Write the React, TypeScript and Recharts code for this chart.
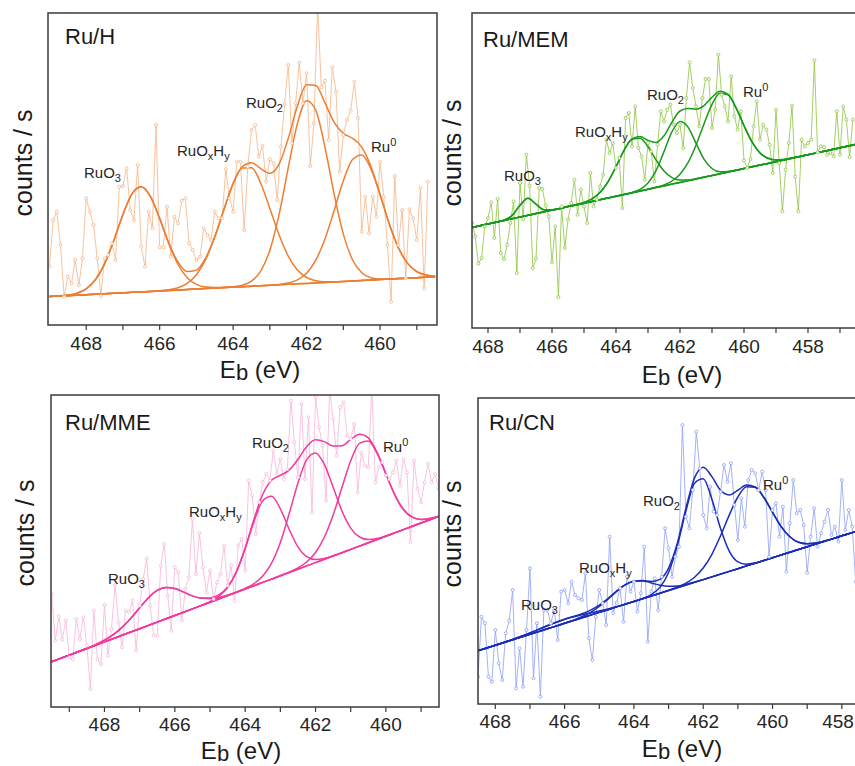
import { LineChart, Line, XAxis, YAxis } from 'recharts'

// fitted curves are sampled every 0.25 eV, raw spectra every 0.1 eV
const FIT_STEP = 0.25
const RAW_STEP = 0.1
const FONT = '"Liberation Sans", Arial, sans-serif'

// ---------- Ru/H ----------
const ruHFitStart = 469.0
const ruHBase = [28.4, 28.9, 29.3, 29.8, 30.3, 30.8, 31.2, 31.7, 32.2, 32.7, 33.1, 33.6, 34.1, 34.5, 35.0, 35.5, 36.0, 36.4, 36.9, 37.4, 37.9, 38.3, 38.8, 39.3, 39.7, 40.2, 40.7, 41.2, 41.6, 42.1, 42.6, 43.0, 43.5, 44.0, 44.5, 44.9, 45.4, 45.9, 46.4, 46.8, 47.3, 47.8, 48.2]
const ruHRuO3 = [0, 0.1, 0.6, 2.0, 5.9, 14.4, 29.9, 52.7, 78.4, 98.7, 105.2, 94.8, 72.3, 46.7, 25.5, 11.8, 4.6, 1.5, 0.5, 0.1, 0, 0, 0, 0, 0, 0, 0, 0, 0, 0, 0, 0, 0, 0, 0, 0, 0, 0, 0, 0, 0, 0, 0]
const ruHRuOxHy = [0, 0, 0, 0, 0, 0, 0, 0, 0, 0, 0, 0, 0.2, 0.7, 2.3, 6.1, 14.3, 28.9, 51.0, 78.0, 103.4, 118.8, 118.5, 102.5, 76.9, 50.0, 28.2, 13.8, 5.9, 2.2, 0.7, 0.2, 0, 0, 0, 0, 0, 0, 0, 0, 0, 0, 0]
const ruHRuO2 = [0, 0, 0, 0, 0, 0, 0, 0, 0, 0, 0, 0, 0, 0, 0, 0, 0, 0, 0, 0.1, 0.3, 1.4, 5.0, 14.6, 35.1, 70.2, 116.4, 160.2, 182.6, 172.6, 135.3, 87.9, 47.4, 21.2, 7.8, 2.4, 0.6, 0.1, 0, 0, 0, 0, 0]
const ruHRu0 = [0, 0, 0, 0, 0, 0, 0, 0, 0, 0, 0, 0, 0, 0, 0, 0, 0, 0, 0, 0, 0, 0, 0, 0, 0, 0.4, 1.3, 3.9, 10.2, 22.7, 43.5, 71.5, 100.7, 121.5, 125.6, 111.4, 84.7, 55.2, 30.8, 14.8, 6.1, 2.1, 0.6]
const ruHRawStart = 469.0
const ruHRaw = [
  58.3, 105, 113.3, 80, 28.3, 48.3, 41.7, 65, 40, 66.7,
  126.7, 113.3, 100, 66.7, 29, 66.7, 70, 81.7, 65, 138.3,
  139, 156.7, 115, 105, 160, 78.3, 58.3, 113.3, 96.7, 200,
  77.7, 77.7, 118.3, 68.3, 108.3, 101.7, 124.3, 126.7, 81.7, 75,
  65, 68.3, 96.7, 90, 85, 113.3, 106.7, 106.7, 155.7, 126.7,
  113.3, 163.3, 163.3, 95, 158.3, 195, 200, 168.3, 179, 143.3,
  165.7, 161.7, 125, 178.3, 221, 260, 181.7, 221.7, 262.3, 221.7,
  251.7, 159, 201.7, 320, 237.7, 244.3, 185, 257.7, 233.3, 153.3,
  190, 205, 214.3, 243.3, 206.7, 93.3, 128.3, 91.7, 128.3, 108.3,
  163.3, 128.3, 80, 23.3, 149, 80, 115, 46.7, 115.7, 106.7,
  85, 137.7, 36.7, 143.3,
]

// ---------- Ru/MEM ----------
const ruMEMFitStart = 468.5
const ruMEMBase = [100.6, 102.3, 104.1, 105.8, 107.5, 109.3, 111.0, 112.7, 114.4, 116.2, 117.9, 119.6, 121.4, 123.1, 124.8, 126.6, 128.3, 130.0, 131.7, 133.5, 135.2, 136.9, 138.7, 140.4, 142.1, 143.9, 145.6, 147.3, 149.0, 150.8, 152.5, 154.2, 156.0, 157.7, 159.4, 161.2, 162.9, 164.6, 166.3, 168.1, 169.8, 171.5, 173.3, 175.0, 176.7, 178.5, 180.2, 181.9, 183.6]
const ruMEMRuO3 = [0, 0, 0, 0, 0.3, 3.1, 11.8, 17.0, 9.4, 2.0, 0.2, 0, 0, 0, 0, 0, 0, 0, 0, 0, 0, 0, 0, 0, 0, 0, 0, 0, 0, 0, 0, 0, 0, 0, 0, 0, 0, 0, 0, 0, 0, 0, 0, 0, 0, 0, 0, 0, 0]
const ruMEMRuOxHy = [0, 0, 0, 0, 0, 0, 0, 0, 0, 0, 0, 0, 0.1, 0.2, 0.8, 2.6, 7.2, 16.2, 29.6, 44.1, 53.4, 52.8, 42.5, 27.8, 14.9, 6.5, 2.3, 0.7, 0.2, 0.1, 0, 0, 0, 0, 0, 0, 0, 0, 0, 0, 0, 0, 0, 0, 0, 0, 0, 0, 0]
const ruMEMRuO2 = [0, 0, 0, 0, 0, 0, 0, 0, 0, 0, 0, 0, 0, 0, 0, 0, 0, 0, 0, 0.1, 0.4, 1.8, 6.4, 17.0, 34.3, 52.4, 60.9, 53.6, 35.8, 18.1, 7.0, 2.0, 0.5, 0.1, 0, 0, 0, 0, 0, 0, 0, 0, 0, 0, 0, 0, 0, 0, 0]
const ruMEMRu0 = [0, 0, 0, 0, 0, 0, 0, 0, 0, 0, 0, 0, 0, 0, 0, 0, 0, 0, 0, 0, 0, 0, 0, 0.3, 1.0, 3.1, 8.2, 18.0, 33.7, 53.3, 71.2, 80.6, 77.2, 62.5, 42.9, 24.9, 12.2, 5.1, 1.8, 0.5, 0.2, 0, 0, 0, 0, 0, 0, 0, 0]
const ruMEMRawStart = 468.5
const ruMEMRaw = [
  105, 91.6, 64.3, 70, 101.6, 110, 125.6, 90, 129, 75,
  69, 83.3, 105, 126.6, 55, 145, 109, 173.3, 142.3, 60,
  69.3, 140, 139, 122.3, 111.6, 65.6, 101.6, 31, 121.6, 80,
  108.3, 125, 148.3, 113.3, 138.3, 121.6, 105, 155, 121.6, 128.3,
  141.6, 153.3, 188.3, 175, 185, 160, 170, 120, 210, 215,
  181.6, 221.6, 180, 171.6, 148.3, 185, 176.6, 146.6,
  183.3, 216.6, 206.6, 218.3, 223.3, 203.3, 195, 203.3, 180, 230,
  265.6, 240, 221.6, 201.6, 230, 249, 249, 200, 218.3, 273.3,
  233.3, 221.6, 206.6, 251.6, 211.6, 198.3, 216.6, 167.6, 160, 169,
  201.6, 226.6, 188.3, 203.3, 198.3, 183.3, 155, 218.3, 165, 116.6,
  158.3, 185, 222.3, 151.6, 116.6, 188.3, 181.6, 185, 188.3, 267.6,
  175.6, 181.6, 181, 173.3, 175, 171.6, 216.6, 173.3, 221.6, 208.3,
  171, 208.3,
]

// ---------- Ru/MME ----------
const ruMMEFitStart = 469.5
const ruMMEBase = [45.3, 48.6, 51.9, 55.2, 58.5, 61.8, 65.1, 68.4, 71.7, 75.0, 78.3, 81.6, 84.9, 88.2, 91.5, 94.8, 98.1, 101.4, 104.7, 108.0, 111.4, 114.7, 118.0, 121.3, 124.6, 127.9, 131.2, 134.5, 137.8, 141.1, 144.4, 147.7, 151.0, 154.3, 157.6, 160.9, 164.2, 167.5, 170.8, 174.1, 177.4, 180.7, 184.0, 187.3, 190.6]
const ruMMERuO3 = [0, 0, 0, 0, 0.2, 0.6, 1.7, 3.9, 7.9, 13.8, 21.0, 27.7, 31.7, 31.4, 27.0, 20.1, 13.0, 7.3, 3.6, 1.5, 0.6, 0.2, 0, 0, 0, 0, 0, 0, 0, 0, 0, 0, 0, 0, 0, 0, 0, 0, 0, 0, 0, 0, 0, 0, 0]
const ruMMERuOxHy = [0, 0, 0, 0, 0, 0, 0, 0, 0, 0, 0, 0, 0, 0, 0, 0, 0, 0.2, 0.7, 2.6, 8.1, 20.3, 40.4, 64.3, 81.7, 82.8, 67.0, 43.3, 22.3, 9.2, 3.0, 0.8, 0.2, 0, 0, 0, 0, 0, 0, 0, 0, 0, 0, 0, 0]
const ruMMERuO2 = [0, 0, 0, 0, 0, 0, 0, 0, 0, 0, 0, 0, 0, 0, 0, 0, 0, 0, 0, 0, 0, 0.1, 0.6, 2.1, 6.4, 16.0, 33.4, 58.7, 86.3, 106.3, 109.7, 94.9, 68.8, 41.8, 21.3, 9.1, 3.2, 1.0, 0.2, 0, 0, 0, 0, 0, 0]
const ruMMERu0 = [0, 0, 0, 0, 0, 0, 0, 0, 0, 0, 0, 0, 0, 0, 0, 0, 0, 0, 0, 0, 0, 0, 0, 0, 0, 0, 0, 0.4, 1.3, 3.9, 10.1, 22.0, 40.9, 65.2, 88.6, 102.8, 101.8, 86.1, 62.2, 38.3, 20.1, 9.1, 3.5, 1.1, 0.3]
const ruMMERawStart = 469.5
const ruMMERaw = [
  113, 66.4, 90.7, 67.4, 86.4, 49.7, 48, 88, 68, 89.7,
  61.4, 18, 96.4, 48, 43, 102, 51.4, 78, 122, 84.7,
  59.7, 96.4, 94.7, 106.4, 56.4, 101.4, 128, 148.7, 101.4, 71.4,
  71.4, 141.4, 163, 111.4, 76.4, 139.7, 134.7, 86.4, 118, 129.7,
  188, 133, 174, 139.7, 114.7, 136.4, 108, 124.7, 133, 161.4,
  121.4, 141.4, 106.4, 161.4, 168, 136.4,
  226.4, 211.4, 173, 204.7, 224.7, 233, 226.4, 256.4, 233, 248,
  228, 238, 306.4, 264.7, 229.7, 303, 228, 289.7, 194.7, 309.7,
  279.7, 261.4, 206.4, 318, 288, 251.4, 299.7, 304.7, 271.4, 268,
  283, 214.7, 254.7, 241.4, 239.7, 318, 224.7, 239.7, 244.7, 231.4,
  228, 234.7, 246.4, 221.4, 248, 234.7, 164.7, 246.4, 218, 204.7,
  224.7, 243, 224.7, 233, 218,
]

// ---------- Ru/CN ----------
const ruCNFitStart = 468.5
const ruCNBase = [53.3, 56.0, 58.8, 61.5, 64.2, 67.0, 69.7, 72.4, 75.2, 77.9, 80.7, 83.4, 86.1, 88.9, 91.6, 94.3, 97.1, 99.8, 102.5, 105.3, 108.0, 110.7, 113.5, 116.2, 118.9, 121.7, 124.4, 127.1, 129.9, 132.6, 135.3, 138.1, 140.8, 143.5, 146.3, 149.0, 151.8, 154.5, 157.2, 160.0, 162.7, 165.4, 168.2, 170.9, 173.6]
const ruCNRuO3 = [0, 0, 0, 0.1, 0.3, 0.7, 1.4, 2.2, 3.1, 3.7, 4.0, 3.7, 3.1, 2.2, 1.4, 0.7, 0.3, 0.1, 0, 0, 0, 0, 0, 0, 0, 0, 0, 0, 0, 0, 0, 0, 0, 0, 0, 0, 0, 0, 0, 0, 0, 0, 0, 0, 0]
const ruCNRuOxHy = [0, 0, 0, 0, 0, 0, 0, 0, 0, 0, 0.1, 0.4, 1.1, 2.8, 5.9, 10.4, 15.5, 19.4, 20.3, 17.8, 13.1, 8.1, 4.2, 1.8, 0.7, 0.2, 0, 0, 0, 0, 0, 0, 0, 0, 0, 0, 0, 0, 0, 0, 0, 0, 0, 0, 0]
const ruCNRuO2 = [0, 0, 0, 0, 0, 0, 0, 0, 0, 0, 0, 0, 0, 0, 0, 0, 0, 0, 0, 0.3, 1.4, 5.9, 18.0, 41.9, 74.0, 99.1, 100.8, 77.7, 45.5, 20.2, 6.8, 1.7, 0.3, 0, 0, 0, 0, 0, 0, 0, 0, 0, 0, 0, 0]
const ruCNRu0 = [0, 0, 0, 0, 0, 0, 0, 0, 0, 0, 0, 0, 0, 0, 0, 0, 0, 0, 0, 0, 0, 0, 0.2, 0.7, 2.0, 5.1, 11.6, 22.6, 38.3, 56.3, 71.7, 79.2, 75.9, 63.0, 45.4, 28.4, 15.4, 7.2, 3.0, 1.0, 0.3, 0, 0, 0, 0]
const ruCNRawStart = 468.5
const ruCNRaw = [
  27.3, 87.3, 80.7, 27.3, 22.3, 74, 40.7, 24, 70.7, 83.3,
  114, 15.7, 55.7, 17.3, 74, 135.7, 25.7, 80.7, 7.3, 94,
  94, 80.7, 94, 64, 112.3, 114, 100.7, 122.3, 109, 105.7,
  104, 130.7, 65.7, 44, 87.3, 114, 100.7, 79, 167.3, 90.7,
  101.3, 115.7, 82.3, 127.3, 112.3, 122.3, 92.3, 110.7, 157.3, 62.3,
  112.3, 125.7, 93.7, 127.3, 175.7, 155.7,
  127.3, 147.3, 157.3, 279, 187.3, 175.7, 214, 272.3, 235.7, 189,
  175.7, 217.3, 192.3, 189, 212.3, 239, 222.3, 240.7, 199, 164,
  205.7, 177.3, 224, 234, 230.7, 214, 232.3, 214, 147.3, 194,
  200.7, 167.3, 197.3, 132.3, 180.7, 224, 190.7, 194, 179, 131.3,
  167.3, 195.7, 157.3, 170.7, 182.3, 194, 169, 177.3, 162.3, 224,
  174, 194, 177.3, 122.3, 185.7,
]

const COMP_KEYS = ['c0', 'c1', 'c2', 'c3']

function buildFit(start: number, base: number[], comps: number[][]) {
  return base.map((b, i) => {
    const row: Record<string, number> = { e: start - i * FIT_STEP, base: b }
    let env = b
    comps.forEach((h, k) => {
      row[COMP_KEYS[k]] = b + h[i]
      env += h[i]
    })
    row.env = env
    return row
  })
}

function buildRaw(start: number, values: number[]) {
  return values.map((v, i) => ({ e: +(start - i * RAW_STEP).toFixed(2), raw: v }))
}

const panels = [
  {
    id: 'h', left: 48, top: 13, width: 389, height: 312, tickMargin: 7,
    domain: [458.45, 469.04], ticks: [459, 460, 461, 462, 463, 464, 465, 466, 467, 468],
    fit: buildFit(ruHFitStart, ruHBase, [ruHRuO3, ruHRuOxHy, ruHRuO2, ruHRu0]),
    raw: buildRaw(ruHRawStart, ruHRaw),
    color: '#ED7D31', rawColor: '#F5B485',
  },
  {
    id: 'mem', left: 472, top: 13, width: 384, height: 315, tickMargin: 7,
    domain: [456.5, 468.5], ticks: [457, 458, 459, 460, 461, 462, 463, 464, 465, 466, 467, 468],
    fit: buildFit(ruMEMFitStart, ruMEMBase, [ruMEMRuO3, ruMEMRuOxHy, ruMEMRuO2, ruMEMRu0]),
    raw: buildRaw(ruMEMRawStart, ruMEMRaw),
    color: '#169B1A', rawColor: '#8CC43C',
  },
  {
    id: 'mme', left: 51, top: 395, width: 388, height: 312, tickMargin: 6,
    domain: [458.49, 469.52], ticks: [459, 460, 461, 462, 463, 464, 465, 466, 467, 468, 469],
    fit: buildFit(ruMMEFitStart, ruMMEBase, [ruMMERuO3, ruMMERuOxHy, ruMMERuO2, ruMMERu0]),
    raw: buildRaw(ruMMERawStart, ruMMERaw),
    color: '#F23A9E', rawColor: '#F8B4D6',
  },
  {
    id: 'cn', left: 478, top: 398, width: 377, height: 306, tickMargin: 6,
    domain: [457.62, 468.5], ticks: [458, 459, 460, 461, 462, 463, 464, 465, 466, 467, 468],
    fit: buildFit(ruCNFitStart, ruCNBase, [ruCNRuO3, ruCNRuOxHy, ruCNRuO2, ruCNRu0]),
    raw: buildRaw(ruCNRawStart, ruCNRaw),
    color: '#1B2DB8', rawColor: '#8C9EF5',
  },
]

// tick label: even energies only, kept inside the page at the right edge
function EnergyTick(props: any) {
  const { x, y, payload, maxX } = props
  const v = payload.value as number
  if (v % 2 !== 0) return null
  const half = 16
  const cx = Math.min(x, maxX - half)
  return (
    <text x={cx} y={y} dy="0.71em" textAnchor="middle" fontSize={19} fill="#262626" fontFamily={FONT}>
      {v}
    </text>
  )
}

function Panel({ p }: { p: (typeof panels)[number] }) {
  const maxX = 854 - p.left
  return (
    <div style={{ position: 'absolute', left: p.left, top: p.top }}>
      <LineChart width={p.width} height={p.height + 40} margin={{ top: 0, right: 0, bottom: 0, left: 0 }}>
        <XAxis
          type="number"
          dataKey="e"
          domain={p.domain}
          reversed
          allowDataOverflow
          ticks={p.ticks}
          interval={0}
          axisLine={false}
          tickLine={{ stroke: '#3a3a3a', strokeWidth: 1.2 }}
          tickSize={5}
          tickMargin={p.tickMargin}
          tick={(props: any) => <EnergyTick {...props} maxX={maxX} />}
          height={40}
        />
        <YAxis type="number" hide domain={[0, p.height]} allowDataOverflow />
        <Line
          data={p.raw}
          dataKey="raw"
          type="linear"
          stroke={p.rawColor}
          strokeWidth={0.8}
          dot={{ r: 1.5, fill: '#fff', stroke: p.rawColor, strokeWidth: 0.8 }}
          isAnimationActive={false}
        />
        <Line data={p.fit} dataKey="base" type="linear" stroke={p.color} strokeWidth={1.5} dot={false} isAnimationActive={false} />
        {COMP_KEYS.map((k) => (
          <Line key={k} data={p.fit} dataKey={k} type="monotone" stroke={p.color} strokeWidth={1.5} dot={false} isAnimationActive={false} />
        ))}
        <Line data={p.fit} dataKey="env" type="monotone" stroke={p.color} strokeWidth={1.5} dot={false} isAnimationActive={false} />
      </LineChart>
    </div>
  )
}

function PeakLabel({ x, y, kind }: { x: number; y: number; kind: string }) {
  const sub = { fontSize: 11 }
  if (kind === 'RuO3' || kind === 'RuO2') {
    return (
      <text x={x} y={y}>
        RuO<tspan dy={4} {...sub}>{kind.slice(3)}</tspan>
      </text>
    )
  }
  if (kind === 'RuOxHy') {
    return (
      <text x={x} y={y}>
        RuO<tspan dy={4} {...sub}>x</tspan>
        <tspan dy={-4}>H</tspan>
        <tspan dy={4} {...sub}>y</tspan>
      </text>
    )
  }
  return (
    <text x={x} y={y}>
      Ru<tspan dy={-6} {...sub}>0</tspan>
    </text>
  )
}

const titles = [
  { text: 'Ru/H', x: 65, y: 43.5 },
  { text: 'Ru/MEM', x: 483, y: 46.5 },
  { text: 'Ru/MME', x: 65, y: 429.5 },
  { text: 'Ru/CN', x: 489, y: 429.5 },
]

const peakLabels = [
  { kind: 'RuO3', x: 84, y: 178 }, { kind: 'RuOxHy', x: 177, y: 156 }, { kind: 'RuO2', x: 246, y: 108 }, { kind: 'Ru0', x: 371, y: 152 },
  { kind: 'RuO3', x: 504, y: 181 }, { kind: 'RuOxHy', x: 575, y: 137 }, { kind: 'RuO2', x: 647, y: 100 }, { kind: 'Ru0', x: 743, y: 97 },
  { kind: 'RuO3', x: 108, y: 584 }, { kind: 'RuOxHy', x: 189, y: 517 }, { kind: 'RuO2', x: 252, y: 448 }, { kind: 'Ru0', x: 383, y: 452 },
  { kind: 'RuO3', x: 521, y: 610 }, { kind: 'RuOxHy', x: 579, y: 573 }, { kind: 'RuO2', x: 643, y: 506 }, { kind: 'Ru0', x: 763, y: 490 },
]

const xLabels = [
  { x: 260, y: 378 },
  { x: 682, y: 383 },
  { x: 241, y: 759 },
  { x: 682, y: 757 },
]

const yLabels = [
  { x: 32, y: 163 },
  { x: 461, y: 153 },
  { x: 34, y: 533 },
  { x: 461, y: 534 },
]

const frames = [
  { x: 48, y: 13, w: 389, h: 312 },
  { x: 472, y: 13, w: 400, h: 315 },
  { x: 51, y: 395, w: 388, h: 312 },
  { x: 478, y: 398, w: 400, h: 306 },
]

export default function App() {
  return (
    <div style={{ position: 'absolute', left: 0, top: 0, width: 855, height: 766, overflow: 'hidden', background: '#fff' }}>
      {panels.map((p) => (
        <Panel key={p.id} p={p} />
      ))}
      <svg width={855} height={766} style={{ position: 'absolute', left: 0, top: 0, pointerEvents: 'none' }}>
        {frames.map((f, i) => (
          <rect key={i} x={f.x} y={f.y} width={f.w} height={f.h} fill="none" stroke="#3a3a3a" strokeWidth={1.5} />
        ))}
        <g fontFamily={FONT} fontSize={22} fill="#1a1a1a">
          {titles.map((t) => (
            <text key={t.text} x={t.x} y={t.y}>{t.text}</text>
          ))}
        </g>
        <g fontFamily={FONT} fontSize={15} fill="#262626">
          {peakLabels.map((l, i) => (
            <PeakLabel key={i} x={l.x} y={l.y} kind={l.kind} />
          ))}
        </g>
        <g fontFamily={FONT} fontSize={24} fill="#1a1a1a">
          {xLabels.map((l, i) => (
            <text key={i} x={l.x} y={l.y} textAnchor="middle">
              E<tspan dy={2} fontSize={22}>b</tspan>
              <tspan dy={-2}> (eV)</tspan>
            </text>
          ))}
        </g>
        <g fontFamily={FONT} fontSize={25} fill="#1a1a1a">
          {yLabels.map((l, i) => (
            <text key={i} transform={`translate(${l.x},${l.y}) rotate(-90)`} textAnchor="middle">
              counts / s
            </text>
          ))}
        </g>
      </svg>
    </div>
  )
}
